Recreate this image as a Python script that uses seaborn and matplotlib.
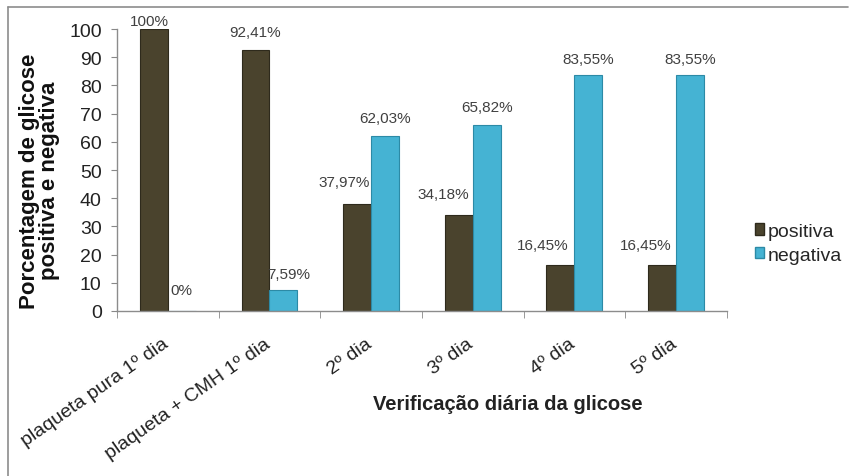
import pandas as pd
import matplotlib.pyplot as plt
import matplotlib.transforms as mtransforms
from matplotlib.lines import Line2D
import seaborn as sns

categories = ['plaqueta pura 1º dia', 'plaqueta + CMH 1º dia', '2º dia', '3º dia', '4º dia', '5º dia']
positiva = [100, 92.41, 37.97, 34.18, 16.45, 16.45]
negativa = [0, 7.59, 62.03, 65.82, 83.55, 83.55]
pos_labels = ['100%', '92,41%', '37,97%', '34,18%', '16,45%', '16,45%']
neg_labels = ['0%', '7,59%', '62,03%', '65,82%', '83,55%', '83,55%']

df = pd.DataFrame({
    'dia': categories * 2,
    'valor': positiva + negativa,
    'grupo': ['positiva'] * 6 + ['negativa'] * 6,
})

sns.set_style('white')
plt.rcParams['font.family'] = ['Liberation Sans', 'DejaVu Sans']

fig = plt.figure(figsize=(8.51, 4.77), dpi=100)
ax = fig.add_axes([0.1375, 0.346, 0.7165, 0.591])

colors = {'positiva': '#4a432d', 'negativa': '#45b3d3'}
sns.barplot(data=df, x='dia', y='valor', hue='grupo', palette=colors,
            width=0.55, saturation=1, ax=ax, legend=True)

edge = {'positiva': '#2e2a1c', 'negativa': '#2c8aa6'}
for cont, grp in zip(ax.containers, ['positiva', 'negativa']):
    for b in cont:
        b.set_edgecolor(edge[grp])
        b.set_linewidth(0.8)

# label offsets in points (dx, dy)
pos_off = [(-3, 6), (0, 13), (-9, 16), (-11, 15), (-13, 14), (-12, 14)]
neg_off = [(0, 15), (4, 11), (0, 13), (0, 13), (0, 12), (0, 12)]
for cont, labels, offs in [(ax.containers[0], pos_labels, pos_off),
                           (ax.containers[1], neg_labels, neg_off)]:
    for b, lab, (dx, dy) in zip(cont, labels, offs):
        ax.annotate(lab, (b.get_x() + b.get_width() / 2, b.get_height()),
                    xytext=(dx, dy), textcoords='offset points',
                    ha='center', va='center', fontsize=11, color='#404040')

ax.set_ylim(0, 100)
ax.set_xlim(-0.5, 5.5)
ax.set_yticks(range(0, 101, 10))
ax.tick_params(axis='y', labelsize=14, length=4, direction='out', left=True,
               color='#888888', labelcolor='#222222', pad=7)
ax.set_xticks([x + 0.5 for x in range(-1, 6)], minor=True)
ax.tick_params(axis='x', which='minor', length=5, direction='out', bottom=True, color='#888888')
ax.tick_params(axis='x', which='major', length=0, pad=17)
ax.set_xticklabels(categories, rotation=35, ha='right', rotation_mode='anchor',
                   fontsize=14, color='#222222')
shift = mtransforms.ScaledTranslation(-6 / 100, 0, fig.dpi_scale_trans)
for lab in ax.get_xticklabels():
    lab.set_transform(lab.get_transform() + shift)
for s in ['top', 'right']:
    ax.spines[s].set_visible(False)
for s in ['left', 'bottom']:
    ax.spines[s].set_color('#8c8c8c')
    ax.spines[s].set_linewidth(1)

ax.set_xlabel('')
ax.set_ylabel('Porcentagem de glicose\npositiva e negativa', fontsize=16,
              fontweight='bold', linespacing=0.92, color='#111111')
ax.yaxis.set_label_coords(60 / 851, 1 - 181 / 477, transform=fig.transFigure)

fig.text(508 / 851, 1 - 405 / 477, 'Verificação diária da glicose', ha='center', va='center',
         fontsize=14.5, fontweight='bold', color='#222222')

handles = [plt.Rectangle((0, 0), 1, 1, facecolor=colors[g], edgecolor=edge[g]) for g in ['positiva', 'negativa']]
ax.legend(handles, ['positiva', 'negativa'], loc='center left', bbox_to_anchor=(1.03, 0.24),
          frameon=False, fontsize=14, handlelength=0.5, handleheight=0.5,
          handletextpad=0.15, labelspacing=0.35, borderpad=0)

fig.add_artist(Line2D([8 / 851, 8 / 851], [0, 1 - 8 / 477], transform=fig.transFigure,
                      color='#8c8c8c', lw=1.2))
fig.add_artist(Line2D([8 / 851, 848 / 851], [1 - 8 / 477, 1 - 8 / 477], transform=fig.transFigure,
                      color='#8c8c8c', lw=1.2))

fig.savefig('out.png', dpi=100)
